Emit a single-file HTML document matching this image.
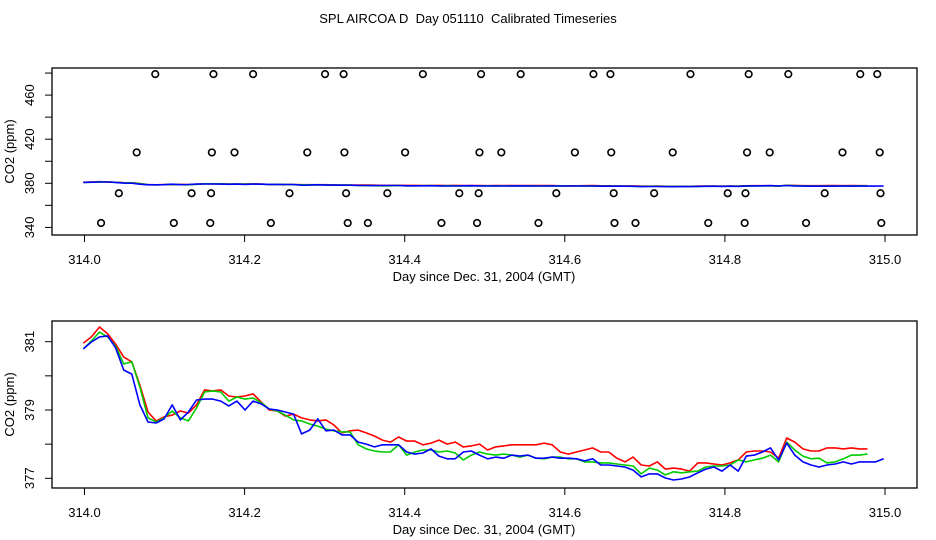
<!DOCTYPE html>
<html><head><meta charset="utf-8"><style>
body{margin:0;background:#fff;}
svg{display:block;font-family:"Liberation Sans",sans-serif;}
</style></head><body>
<svg id="chart" width="936" height="540" viewBox="0 0 936 540" xmlns="http://www.w3.org/2000/svg">
<text x="468" y="23" text-anchor="middle" font-size="13" xml:space="preserve">SPL AIRCOA D  Day 051110  Calibrated Timeseries</text>
<g id="top"></g>
<g id="bot"></g>
</svg>
<script>
const days=[313.9985,314.0086,314.0187,314.0288,314.0389,314.0490,314.0591,314.0692,314.0793,314.0894,314.0995,314.1096,314.1197,314.1298,314.1399,314.1500,314.1601,314.1702,314.1803,314.1904,314.2005,314.2106,314.2207,314.2308,314.2409,314.2510,314.2611,314.2712,314.2813,314.2914,314.3015,314.3116,314.3217,314.3318,314.3419,314.3520,314.3621,314.3722,314.3823,314.3924,314.4025,314.4126,314.4227,314.4328,314.4429,314.4530,314.4631,314.4732,314.4833,314.4934,314.5035,314.5136,314.5237,314.5338,314.5439,314.5540,314.5641,314.5742,314.5843,314.5944,314.6045,314.6146,314.6247,314.6348,314.6449,314.6550,314.6651,314.6752,314.6853,314.6954,314.7055,314.7156,314.7257,314.7358,314.7459,314.7560,314.7661,314.7762,314.7863,314.7964,314.8065,314.8166,314.8267,314.8368,314.8469,314.8570,314.8671,314.8772,314.8873,314.8974,314.9075,314.9176,314.9277,314.9378,314.9479,314.9580,314.9681,314.9782,314.9883,314.9984];
const redSeries=[380.96,381.14,381.43,381.23,380.93,380.55,380.41,379.73,378.94,378.68,378.80,378.85,378.97,378.91,379.15,379.59,379.56,379.59,379.41,379.38,379.41,379.47,379.23,379.00,378.97,378.82,378.88,378.77,378.71,378.68,378.71,378.56,378.33,378.39,378.41,378.33,378.24,378.12,378.06,378.21,378.09,378.09,377.98,378.03,378.12,378.00,378.06,377.92,377.95,378.00,377.83,377.92,377.95,377.98,377.98,377.98,377.98,378.03,377.98,377.77,377.71,377.77,377.83,377.89,377.77,377.77,377.59,377.48,377.62,377.39,377.36,377.48,377.27,377.30,377.27,377.21,377.45,377.45,377.42,377.39,377.45,377.54,377.77,377.80,377.80,377.77,377.59,378.18,378.06,377.86,377.80,377.80,377.89,377.89,377.86,377.89,377.86,377.86,null,null];
const greenSeries=[380.79,381.02,381.28,381.14,380.87,380.35,380.41,379.67,378.77,378.65,378.77,378.97,378.77,378.68,379.06,379.53,379.56,379.53,379.26,379.38,379.32,379.35,379.21,379.03,378.97,378.85,378.71,378.68,378.59,378.53,378.44,378.39,378.36,378.36,377.98,377.86,377.80,377.77,377.77,377.98,377.68,377.77,377.83,377.83,377.77,377.80,377.74,377.54,377.68,377.77,377.71,377.68,377.71,377.68,377.62,377.68,377.59,377.57,377.62,377.62,377.57,377.57,377.48,377.48,377.45,377.45,377.42,377.39,377.36,377.13,377.30,377.24,377.10,377.19,377.16,377.19,377.21,377.33,377.36,377.36,377.39,377.54,377.48,377.54,377.59,377.68,377.48,378.06,377.83,377.65,377.57,377.59,377.45,377.48,377.57,377.68,377.68,377.71,null,null];
const blueSeries=[380.79,380.99,381.14,381.17,380.82,380.17,380.05,379.15,378.65,378.62,378.74,379.15,378.71,378.94,379.29,379.32,379.32,379.26,379.12,379.26,379.00,379.26,379.18,379.03,379.00,378.94,378.88,378.30,378.41,378.74,378.39,378.41,378.27,378.27,378.06,378.00,377.92,377.98,377.98,377.98,377.77,377.71,377.74,377.86,377.65,377.57,377.57,377.77,377.80,377.68,377.57,377.62,377.59,377.68,377.65,377.68,377.59,377.59,377.62,377.59,377.59,377.57,377.51,377.57,377.39,377.39,377.36,377.33,377.24,377.04,377.13,377.13,377.01,376.95,376.98,377.04,377.16,377.27,377.33,377.21,377.39,377.21,377.65,377.68,377.77,377.89,377.54,378.03,377.68,377.48,377.39,377.33,377.39,377.42,377.48,377.42,377.48,377.48,377.48,377.57];
const flagDays=[314.0207,314.0429,314.0652,314.0884,314.1116,314.1338,314.1571,314.1581,314.1591,314.1611,314.1874,314.2106,314.2328,314.2561,314.2783,314.3005,314.3237,314.3247,314.3268,314.3288,314.3540,314.3783,314.4005,314.4227,314.4459,314.4682,314.4904,314.4924,314.4934,314.4954,314.5207,314.5449,314.5671,314.5894,314.6126,314.6358,314.6570,314.6580,314.6611,314.6621,314.6883,314.7116,314.7348,314.7570,314.7792,314.8035,314.8247,314.8257,314.8277,314.8297,314.8560,314.8792,314.9014,314.9247,314.9469,314.9691,314.9903,314.9934,314.9944,314.9954];
const flagValues=[344,371,408,479,344,371,344,371,408,479,408,479,344,371,408,479,479,408,371,344,344,371,408,479,344,371,344,371,408,479,408,479,344,371,408,479,479,408,371,344,344,371,408,479,344,371,344,371,408,479,408,479,344,371,408,479,479,408,371,344];
const xTicks=[314.0,314.2,314.4,314.6,314.8,315.0];
const xTickLabels=["314.0","314.2","314.4","314.6","314.8","315.0"];
const topYTicks=[340,360,380,400,420,440,460,480];
const topYLabels=["340","","380","","420","","460",""];
const botYTicks=[377,378,379,380,381];
const botYLabels=["377","","379","","381"];
const seriesColors=["#ff0000","#00cc00","#0000ff"];
const seriesNames=["red-series","green-series","blue-series"];

const NS="http://www.w3.org/2000/svg";
const L=52,R=917;
function xs(d){return 84.5+(d-314)*800.5;}
function mk(parent,tag,attrs){const e=document.createElementNS(NS,tag);for(const k in attrs)e.setAttribute(k,attrs[k]);parent.appendChild(e);return e;}

function panel(g,top,bottom,ys,yTicks,yLabels,prefix){
  const box=mk(g,'rect',{x:L,y:top,width:R-L,height:bottom-top,fill:'none',stroke:'#000','stroke-width':1.3});
  
  
  xTicks.forEach((t,i)=>{
    const x=xs(t);
    const tk=mk(g,'line',{x1:x,x2:x,y1:bottom,y2:bottom+7,stroke:'#000','stroke-width':1});
    
    
    const tl=mk(g,'text',{x:x,y:bottom+29,'text-anchor':'middle','font-size':13});
    tl.textContent=xTickLabels[i];
    
    
  });
  const xt=mk(g,'text',{x:484,y:bottom+46,'text-anchor':'middle','font-size':13});
  xt.textContent='Day since Dec. 31, 2004 (GMT)';
  
  
  yTicks.forEach((t,i)=>{
    const y=ys(t);
    const tk=mk(g,'line',{x1:L-7,x2:L,y1:y,y2:y,stroke:'#000','stroke-width':1});
    
    
    if(yLabels[i]){
      const tl=mk(g,'text',{x:0,y:0,'text-anchor':'middle','font-size':13,transform:`translate(34,${y}) rotate(-90)`});
      tl.textContent=yLabels[i];
      
      
    }
  });
  const yt=mk(g,'text',{x:0,y:0,'text-anchor':'middle','font-size':13,transform:`translate(14,${(top+bottom)/2}) rotate(-90)`});
  yt.textContent='CO2 (ppm)';
  
  
  [redSeries,greenSeries,blueSeries].forEach((s,j)=>{
    let d='';let pen=false;
    s.forEach((v,i)=>{if(v===null){pen=false;return;}d+=(pen?'L':'M')+xs(days[i]).toFixed(1)+','+ys(v).toFixed(1);pen=true;});
    const p=mk(g,'path',{d:d,fill:'none',stroke:seriesColors[j],'stroke-width':1.6,'stroke-linejoin':'round'});
    
    
  });
}
const topG=document.getElementById('top');
const botG=document.getElementById('bot');
const ysTop=v=>183.3-(v-380)*1.1025;
const ysBot=v=>341.7-(v-381)*34.15;
panel(topG,68,235,ysTop,topYTicks,topYLabels,'top');
panel(botG,321,488,ysBot,botYTicks,botYLabels,'bottom');
flagDays.forEach((d,i)=>{
  const c=mk(topG,'circle',{cx:xs(d),cy:ysTop(flagValues[i]),r:3.3,fill:'none',stroke:'#000','stroke-width':1.6});
  
  
});
</script>
</body></html>
